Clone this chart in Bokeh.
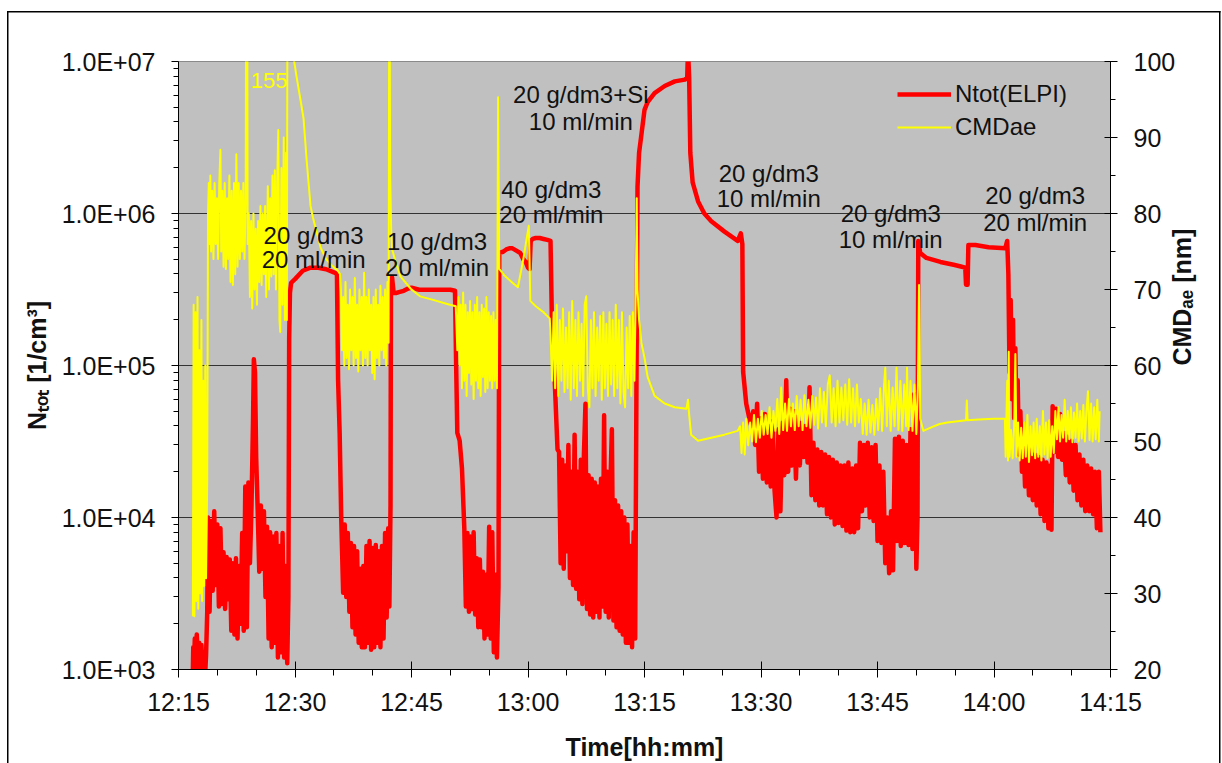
import math
import numpy as np
import pandas as pd
from bokeh.plotting import figure
from bokeh.models import (Range1d, LinearAxis, LinearScale, FixedTicker, SingleIntervalTicker,
                          DatetimeTickFormatter, ColumnDataSource, Legend, LegendItem)
from bokeh.embed import file_html
from bokeh.resources import INLINE
from bokeh.core.properties import value

BASE = pd.Timestamp("2012-01-01 12:00:00")
FONT = "Liberation Sans"

# ---------------- Ntot(ELPI) [1/cm3] : (minutes after 12:00, value) ----------------
red_startup = [(16.8, 700), (16.9, 1400), (17.0, 1100), (17.1, 1600), (17.2, 1000), (17.35, 1700),
               (17.5, 1150), (17.65, 1500), (17.8, 900), (17.95, 1450), (18.1, 950), (18.25, 1300),
               (18.4, 850), (18.55, 1250), (18.7, 2400)]
red_run1 = [(18.8, 1.0e4), (19.0, 2.4e3), (19.2, 9.5e3), (19.4, 3.3e3), (19.6, 1.1e4), (19.8, 3.6e3),
            (20.0, 9.0e3), (20.2, 2.6e3), (20.4, 8.5e3), (20.6, 2.7e3), (20.8, 5.9e3), (21.0, 2.5e3),
            (21.2, 5.5e3), (21.4, 2.9e3), (21.6, 5.3e3), (21.8, 1.8e3), (22.0, 5.0e3), (22.2, 1.7e3),
            (22.4, 5.4e3), (22.6, 1.6e3), (22.8, 4.8e3), (23.0, 2.0e3), (23.2, 7.9e3), (23.4, 1.8e3),
            (23.6, 1.6e4), (23.8, 1.9e3), (24.0, 1.7e4), (24.2, 5.0e3), (24.4, 1.2e4), (24.6, 4.5e4),
            (24.7, 1.1e5), (24.85, 9.0e4), (25.0, 2.5e4), (25.2, 1.1e4), (25.4, 4.4e3), (25.6, 1.2e4),
            (25.8, 4.6e3), (26.0, 1.1e4), (26.2, 3.0e3), (26.4, 8.7e3), (26.6, 1.6e3), (26.8, 8.0e3),
            (27.0, 1.4e3), (27.2, 7.5e3), (27.4, 1.5e3), (27.6, 7.9e3), (27.8, 1.2e3), (28.0, 6.5e3),
            (28.2, 1.3e3), (28.4, 7.9e3), (28.6, 1.2e3), (28.8, 4.8e3), (29.0, 1.1e3), (29.15, 3.0e3)]
red_plateau1 = [(29.25, 1.5e5), (29.35, 3.0e5), (29.5, 3.5e5), (30.0, 3.7e5), (31.0, 4.2e5),
                (32.0, 4.4e5), (33.0, 4.4e5), (34.0, 4.3e5), (35.0, 4.1e5), (35.4, 4.0e5),
                (35.55, 8.0e4), (35.75, 3.6e4), (35.95, 1.0e4)]
red_run2 = [(36.2, 3.2e3), (36.4, 9.0e3), (36.6, 3.0e3), (36.8, 7.9e3), (37.0, 2.4e3), (37.2, 6.8e3),
            (37.4, 1.9e3), (37.6, 6.5e3), (37.8, 1.7e3), (38.0, 6.0e3), (38.2, 1.5e3), (38.4, 4.6e3),
            (38.6, 1.4e3), (38.8, 4.8e3), (39.0, 1.4e3), (39.2, 6.5e3), (39.4, 1.5e3), (39.6, 7.0e3),
            (39.8, 1.35e3), (40.0, 6.3e3), (40.2, 1.4e3), (40.4, 6.6e3), (40.6, 1.5e3), (40.8, 6.0e3),
            (41.0, 1.4e3), (41.2, 6.5e3), (41.4, 1.6e3), (41.6, 7.9e3), (41.8, 2.2e3), (42.0, 8.5e3),
            (42.15, 2.6e3), (42.3, 1.2e4)]
red_plateau2 = [(42.35, 3.3e5), (42.5, 3.8e5), (42.7, 3.0e5), (43.0, 3.0e5), (43.5, 3.05e5),
                (44.0, 3.1e5), (44.5, 3.2e5), (45.0, 3.25e5), (45.5, 3.2e5), (46.0, 3.15e5),
                (48.0, 3.15e5), (50.0, 3.15e5), (50.6, 3.1e5), (50.75, 1.0e5), (50.9, 3.6e4),
                (51.2, 3.2e4), (51.5, 2.1e4), (51.8, 8.5e3)]
red_run3 = [(52.0, 2.6e3), (52.2, 7.9e3), (52.4, 2.4e3), (52.6, 7.5e3), (52.8, 2.5e3), (53.0, 8.0e3),
            (53.2, 2.3e3), (53.4, 5.4e3), (53.6, 1.9e3), (53.8, 5.3e3), (54.0, 1.9e3), (54.2, 4.4e3),
            (54.4, 1.6e3), (54.6, 4.2e3), (54.8, 1.7e3), (55.0, 8.7e3), (55.2, 1.6e3), (55.4, 8.0e3),
            (55.6, 1.3e3), (55.8, 4.2e3), (56.0, 1.2e3), (56.2, 3.5e3)]
red_plateau3 = [(56.3, 5.5e5), (56.8, 5.6e5), (57.2, 5.8e5), (57.6, 5.9e5), (58.0, 5.9e5),
                (58.5, 5.7e5), (59.0, 5.5e5), (59.4, 5.0e5), (59.7, 4.8e5), (60.0, 4.4e5),
                (60.2, 4.3e5), (60.35, 6.6e5), (60.6, 6.8e5), (61.0, 6.9e5), (61.5, 6.9e5),
                (62.0, 6.8e5), (62.5, 6.7e5), (62.9, 6.6e5), (63.1, 1.7e5), (63.4, 9.0e4),
                (63.6, 5.0e4), (63.8, 2.8e4)]
red_run4 = [(64.0, 2.7e4), (64.2, 5.0e3), (64.4, 2.4e4), (64.6, 4.6e3), (64.8, 2.2e4), (65.0, 6.0e3),
            (65.2, 3.0e4), (65.4, 4.0e3), (65.6, 2.0e4), (65.8, 3.6e3), (66.0, 3.5e4), (66.2, 3.4e3),
            (66.4, 2.0e4), (66.6, 2.9e3), (66.8, 2.4e4), (67.0, 2.7e3), (67.2, 2.6e4), (67.4, 5.6e4),
            (67.6, 2.5e3), (67.8, 1.9e4), (68.0, 2.3e3), (68.2, 1.8e4), (68.4, 2.2e3), (68.6, 1.7e4),
            (68.8, 2.4e3), (69.0, 1.6e4), (69.2, 2.2e3), (69.4, 1.8e4), (69.6, 2.6e3), (69.8, 4.7e4),
            (70.0, 2.4e3), (70.2, 2.0e4), (70.4, 2.2e3), (70.6, 1.6e4), (70.8, 3.8e4), (71.0, 2.1e3),
            (71.2, 1.3e4), (71.4, 1.9e3), (71.6, 1.2e4), (71.8, 1.8e3), (72.0, 1.1e4), (72.2, 1.7e3),
            (72.4, 1.0e4), (72.6, 1.5e3), (72.8, 9.0e3), (73.0, 1.5e3), (73.2, 6.5e3), (73.4, 1.4e3),
            (73.6, 8.0e3), (73.8, 1.6e3)]
red_plateau4 = [(74.0, 1.7e5), (74.1, 1.5e6), (74.3, 2.5e6), (74.6, 3.3e6), (75.0, 4.8e6),
                (75.4, 5.4e6), (76.3, 6.2e6), (77.6, 6.9e6), (78.9, 7.4e6), (80.2, 7.6e6),
                (80.5, 7.8e6), (80.6, 1.2e7), (80.75, 7.8e6), (80.9, 2.5e6), (81.2, 1.6e6),
                (81.9, 1.2e6), (82.7, 1.0e6), (83.6, 8.9e5), (85.3, 7.6e5), (87.0, 6.6e5),
                (87.4, 7.4e5), (87.6, 6.3e5), (87.7, 9.1e4), (88.1, 5.6e4), (88.5, 4.5e4)]
red_run5 = [(88.75, 4.0e4), (89.0, 5.0e4), (89.25, 3.0e4), (89.5, 5.6e4), (89.75, 2.0e4), (90.0, 4.5e4),
            (90.25, 1.8e4), (90.5, 4.8e4), (90.75, 1.7e4), (91.0, 4.0e4), (91.25, 1.6e4), (91.5, 4.3e4),
            (91.75, 1.5e4), (92.0, 1.0e4), (92.25, 3.8e4), (92.5, 1.1e4), (92.75, 4.2e4), (93.0, 1.9e4),
            (93.25, 8.0e4), (93.5, 2.0e4), (93.75, 5.2e4), (94.0, 2.2e4), (94.25, 5.0e4), (94.5, 1.8e4),
            (94.75, 4.6e4), (95.0, 2.2e4), (95.25, 4.2e4), (95.5, 2.5e4), (95.75, 4.0e4), (96.0, 2.3e4),
            (96.25, 7.2e4), (96.5, 1.4e4), (96.75, 3.1e4), (97.0, 1.3e4), (97.25, 2.8e4), (97.5, 1.2e4),
            (97.75, 2.7e4), (98.0, 1.2e4), (98.25, 2.6e4), (98.5, 1.05e4), (98.75, 2.5e4), (99.0, 1.0e4),
            (99.25, 2.4e4), (99.5, 9.0e3), (99.75, 2.3e4), (100.0, 9.2e3), (100.25, 2.2e4), (100.5, 8.8e3),
            (100.75, 2.2e4), (101.0, 8.2e3), (101.25, 2.3e4), (101.5, 8.0e3), (101.75, 2.1e4), (102.0, 8.0e3),
            (102.25, 2.2e4), (102.5, 8.5e3), (102.75, 3.1e4), (103.0, 1.1e4), (103.25, 3.0e4), (103.5, 1.2e4),
            (103.75, 3.1e4), (104.0, 1.0e4), (104.25, 2.9e4), (104.5, 9.5e3), (104.75, 3.0e4), (105.0, 7.0e3),
            (105.25, 2.2e4), (105.5, 6.8e3), (105.75, 2.0e4), (106.0, 5.0e3), (106.25, 1.0e4), (106.5, 4.3e3),
            (106.75, 1.1e4), (107.0, 4.5e3), (107.25, 3.3e4), (107.5, 7.0e3), (107.75, 3.4e4), (108.0, 6.5e3),
            (108.25, 3.2e4), (108.5, 6.8e3), (108.75, 3.0e4), (109.0, 6.6e3), (109.25, 3.8e4), (109.5, 6.2e3),
            (109.75, 6.5e4), (110.0, 4.6e3), (110.15, 1.0e4)]
red_plateau5 = [(110.25, 6.6e5), (110.5, 5.5e5), (111.3, 5.1e5), (113.1, 4.8e5), (114.8, 4.6e5),
                (115.6, 4.5e5), (116.3, 4.4e5), (116.4, 3.4e5), (116.6, 3.4e5), (116.7, 6.2e5),
                (117.6, 6.2e5), (119.3, 6.0e5), (121.45, 5.9e5), (121.7, 6.6e5), (121.85, 4.0e5)]
red_run6 = [(122.0, 9.0e4), (122.15, 2.7e5), (122.3, 6.0e4), (122.45, 2.0e5), (122.6, 4.5e4),
            (122.75, 1.3e5), (122.9, 4.0e4), (123.05, 8.0e4), (123.2, 2.6e4), (123.4, 5.0e4), (123.6, 2.0e4),
            (123.8, 3.1e4), (124.0, 1.6e4), (124.25, 3.0e4), (124.5, 1.4e4), (124.75, 2.8e4), (125.0, 1.3e4),
            (125.25, 2.6e4), (125.5, 1.2e4), (125.75, 2.5e4), (126.0, 1.05e4), (126.25, 2.4e4), (126.5, 9.5e3),
            (126.75, 2.3e4), (127.0, 8.5e3), (127.25, 2.2e4), (127.4, 8.3e3), (127.55, 5.4e4), (127.8, 2.7e4),
            (128.0, 5.2e4), (128.25, 2.5e4), (128.5, 4.8e4), (128.75, 2.4e4), (129.0, 3.6e4), (129.25, 1.9e4),
            (129.5, 3.4e4), (129.75, 1.7e4), (130.0, 3.2e4), (130.25, 1.5e4), (130.5, 3.0e4), (130.75, 1.3e4),
            (131.0, 2.6e4), (131.25, 1.2e4), (131.5, 2.4e4), (131.75, 1.1e4), (132.0, 2.2e4), (132.25, 1.1e4),
            (132.5, 2.1e4), (132.75, 1.05e4), (133.0, 2.0e4), (133.25, 8.5e3), (133.5, 2.0e4), (133.7, 8.0e3)]

# ---------------- CMDae [nm] : (minutes after 12:00, value) ----------------
yel_startup = [(16.85, 27), (16.95, 68), (17.05, 27), (17.2, 67), (17.3, 29), (17.45, 69), (17.55, 28),
               (17.7, 62), (17.8, 30), (17.95, 66), (18.05, 29), (18.2, 58), (18.3, 31), (18.45, 60),
               (18.55, 32), (18.7, 45)]
yel_run1 = [(18.8, 80), (18.9, 84), (19.0, 76), (19.1, 85), (19.2, 75), (19.35, 83), (19.5, 74), (19.65, 84),
            (19.8, 76), (19.95, 82), (20.1, 74), (20.25, 84), (20.4, 88.4), (20.5, 75), (20.65, 83), (20.8, 73),
            (20.95, 84), (21.1, 72.7), (21.25, 82), (21.4, 74), (21.55, 85), (21.7, 71), (21.85, 83), (22.0, 70.6),
            (22.15, 84), (22.3, 72), (22.45, 87.8), (22.6, 73), (22.75, 84), (22.9, 74), (23.05, 83), (23.2, 75),
            (23.35, 84), (23.5, 74), (23.65, 82), (23.8, 155), (23.9, 76), (24.05, 80), (24.2, 69), (24.35, 79),
            (24.5, 67.5), (24.65, 80), (24.8, 70), (24.95, 78), (25.1, 68), (25.25, 79), (25.4, 71), (25.55, 81),
            (25.7, 70.6), (25.85, 80), (26.0, 72), (26.15, 81), (26.3, 69), (26.5, 83.6), (26.65, 70), (26.8, 82),
            (26.95, 71.7), (27.1, 85), (27.25, 72), (27.4, 85.7), (27.55, 70), (27.7, 84), (27.85, 91), (28.0, 66),
            (28.1, 64.4), (28.25, 86), (28.4, 68), (28.55, 90), (28.7, 66), (28.85, 88), (28.95, 66)]
yel_decay1 = [(29.05, 120), (29.4, 115), (29.6, 105), (29.75, 101), (30.2, 98), (30.7, 95), (31.1, 92.5),
              (31.5, 87), (32.0, 81), (32.3, 79.5), (32.8, 77.5), (33.3, 75.5), (34.0, 74), (34.7, 73.2),
              (35.5, 72.5), (35.8, 72)]
yel_run2 = [(35.9, 70), (36.05, 62), (36.2, 69), (36.35, 60), (36.5, 71), (36.65, 61), (36.8, 68), (36.95, 59.5),
            (37.1, 70), (37.25, 62), (37.4, 69), (37.55, 60), (37.7, 71.5), (37.85, 61), (38.0, 68), (38.15, 59.2),
            (38.3, 70), (38.45, 62), (38.6, 69), (38.75, 60), (38.9, 72.2), (39.05, 61), (39.2, 69), (39.35, 60),
            (39.5, 70), (39.65, 62), (39.8, 68), (39.95, 59), (40.1, 69), (40.25, 58.2), (40.4, 70), (40.55, 61),
            (40.7, 68), (40.85, 60), (41.0, 70.5), (41.15, 62), (41.3, 69), (41.45, 61), (41.6, 70), (41.75, 60),
            (41.9, 71), (42.05, 63)]
yel_decay2 = [(42.15, 120), (42.25, 85), (42.4, 77), (42.5, 75.3), (43.0, 73.5), (43.6, 71.7), (44.9, 70.1),
              (46.1, 69.1), (47.9, 68.6), (49.6, 68.1), (50.7, 67.8)]
yel_run3 = [(50.9, 62), (51.05, 69), (51.2, 60), (51.35, 68), (51.5, 57), (51.65, 69.6), (51.8, 58), (51.95, 68),
            (52.1, 56), (52.25, 67), (52.4, 59), (52.55, 68.5), (52.7, 57.5), (52.85, 67), (53.0, 55.6), (53.15, 68),
            (53.3, 58), (53.45, 69), (53.6, 57), (53.75, 67), (53.9, 56), (54.05, 68), (54.2, 58.5), (54.35, 67.5),
            (54.5, 56.5), (54.65, 69), (54.8, 57), (54.95, 67), (55.1, 58), (55.25, 66.5), (55.4, 57), (55.55, 67),
            (55.7, 58), (55.85, 66), (56.0, 57)]
yel_mid = [(56.15, 95.3), (56.3, 72.7), (57.0, 71.8), (58.0, 70.9), (58.7, 70.3), (59.4, 74), (60.1, 78.4),
           (60.3, 68.5), (61.0, 67.8), (62.0, 67), (62.8, 66.2)]
yel_run4 = [(62.9, 64), (63.1, 58), (63.3, 67), (63.5, 57), (63.7, 68), (63.9, 56), (64.1, 66), (64.3, 58),
            (64.5, 67.5), (64.7, 56.5), (64.9, 65), (65.1, 57), (65.3, 67), (65.5, 55.5), (65.7, 68.5), (65.9, 57),
            (66.1, 66), (66.3, 56), (66.5, 67), (66.7, 58), (66.9, 65.5), (67.1, 56), (67.3, 68), (67.5, 69.1),
            (67.7, 57), (67.9, 54.5), (68.1, 66), (68.3, 57), (68.5, 67), (68.7, 56), (68.9, 65), (69.1, 58),
            (69.3, 66.5), (69.5, 55.5), (69.7, 67), (69.9, 57), (70.1, 65.5), (70.3, 56), (70.5, 67), (70.7, 57.5),
            (70.9, 66), (71.1, 56), (71.3, 68), (71.5, 57), (71.7, 66), (71.9, 55), (72.1, 67), (72.3, 56.5),
            (72.5, 54.5), (72.7, 65), (72.9, 57), (73.1, 66.5), (73.3, 56), (73.5, 67), (73.7, 58), (73.85, 68)]
yel_decay3 = [(74.0, 82), (74.1, 70), (74.3, 66), (74.6, 63), (75.0, 61), (75.4, 58.5), (76.3, 56), (77.6, 55),
              (78.9, 54.5), (80.4, 54.3), (80.6, 55.5), (80.75, 53.5), (81.0, 50.9), (81.9, 50.1), (83.6, 50.5),
              (85.3, 50.9), (87.0, 51.4)]
yel_run5 = [(87.3, 52), (87.5, 48.5), (87.7, 52.5), (87.9, 48.3), (88.1, 53), (88.35, 49.5), (88.6, 52.5),
            (88.85, 50), (89.1, 53.5), (89.35, 49.9), (89.6, 53), (89.85, 50.5), (90.1, 54), (90.35, 50.9),
            (90.6, 53.5), (90.85, 51), (91.1, 54.5), (91.35, 50.5), (91.6, 54), (91.85, 51.4), (92.1, 55.6),
            (92.35, 51), (92.6, 57.1), (92.85, 51.5), (93.1, 55), (93.35, 51.4), (93.6, 55.6), (93.85, 52),
            (94.1, 55), (94.35, 51.5), (94.6, 56), (94.85, 52), (95.1, 55.5), (95.35, 51.5), (95.6, 56.1),
            (95.85, 52), (96.1, 55.5), (96.35, 51.8), (96.6, 56), (96.85, 52.2), (97.1, 55.8), (97.35, 51.7),
            (97.6, 57), (97.85, 52.5), (98.1, 56.5), (98.35, 52), (98.6, 57.5), (98.85, 58.7), (99.1, 52.5),
            (99.35, 57), (99.6, 52), (99.85, 58), (100.1, 52.5), (100.35, 57.1), (100.6, 52.8), (100.85, 57.5),
            (101.1, 52.2), (101.35, 58.2), (101.6, 52.5), (101.85, 57), (102.1, 52), (102.35, 57.5), (102.6, 52.5),
            (102.85, 55.6), (103.1, 51), (103.35, 55), (103.6, 50.9), (103.85, 55.5), (104.1, 51.2), (104.35, 54.8),
            (104.6, 50.9), (104.85, 55.6), (105.1, 51.5), (105.35, 57), (105.6, 51.4), (105.85, 57.5), (106.0, 59.7),
            (106.2, 52), (106.45, 58), (106.7, 51.4), (106.95, 57.1), (107.2, 52), (107.45, 59.7), (107.7, 51.5),
            (107.95, 58), (108.2, 51.4), (108.45, 57.5), (108.7, 52), (108.8, 59.7), (109.0, 51.5), (109.25, 58),
            (109.5, 51.4), (109.75, 57.5), (110.0, 51), (110.2, 57)]
yel_flat = [(110.35, 70.6), (110.5, 53), (110.9, 51.4), (112.0, 51.9), (113.0, 52.3), (114.0, 52.5),
            (115.6, 52.7), (116.4, 52.8), (116.5, 55.4), (116.6, 52.8), (118.0, 52.9), (120.0, 53.0),
            (121.4, 53.0)]
yel_run6 = [(121.5, 48), (121.7, 58), (121.8, 47.5), (121.9, 61.8), (122.0, 48), (122.2, 51.5), (122.4, 47.8),
            (122.6, 52), (122.75, 61.5), (122.9, 48), (123.1, 52.5), (123.3, 47.5), (123.5, 51.8), (123.7, 47.8),
            (123.9, 52.5), (124.1, 48), (124.3, 53.5), (124.5, 47.3), (124.7, 52), (124.9, 48.2), (125.1, 52.5),
            (125.3, 47.8), (125.5, 53), (125.7, 48), (125.9, 52), (126.1, 47.5), (126.3, 54), (126.5, 48.3),
            (126.7, 52.5), (126.9, 47.8), (127.1, 52.8), (127.3, 48), (127.5, 52), (127.7, 48.5), (127.9, 54),
            (128.1, 50.3), (128.3, 54.5), (128.5, 50), (128.7, 53.5), (128.9, 50.5), (129.1, 55.5), (129.3, 50),
            (129.5, 54), (129.7, 50.3), (129.9, 54.5), (130.1, 49.9), (130.3, 53.8), (130.5, 50.5), (130.7, 55),
            (130.9, 50), (131.1, 54), (131.3, 50.4), (131.5, 54.8), (131.7, 50), (131.9, 54), (132.1, 56.6),
            (132.3, 50.2), (132.5, 55), (132.7, 50), (132.9, 54.5), (133.1, 50.3), (133.3, 55.5), (133.5, 50),
            (133.6, 54)]

# ---------------- annotations ----------------
ann_text = ["20 g/dm3", "20 ml/min", "10 g/dm3", "20 ml/min", "40 g/dm3", "20 ml/min",
            "20 g/dm3+Si", "10 ml/min", "20 g/dm3", "10 ml/min", "20 g/dm3", "10 ml/min",
            "20 g/dm3", "20 ml/min"]
ann_min = [32.4, 32.4, 48.3, 48.3, 63.0, 63.0, 66.8, 66.8, 91.0, 91.0, 106.7, 106.7, 125.3, 125.3]
ann_n = [7.2e5, 5.0e5, 6.55e5, 4.42e5, 1.44e6, 9.8e5, 6.07e6, 4.03e6, 1.83e6, 1.26e6,
         1.0e6, 6.75e5, 1.31e6, 8.7e5]
peak_label = "155"
peak_label_min, peak_label_cmd = 24.3, 97.5

x_tick_min = [15, 30, 45, 60, 75, 90, 105, 120, 135]
x_minor_min = [20, 25, 35, 40, 50, 55, 65, 70, 80, 85, 95, 100, 110, 115, 125, 130]
y_ticks = [1e3, 1e4, 1e5, 1e6, 1e7]
y_tick_labels = ["1.0E+03", "1.0E+04", "1.0E+05", "1.0E+06", "1.0E+07"]


def to_dt(mins):
    return BASE + pd.to_timedelta(np.asarray(mins, dtype=float), unit="m")


def to_ms(mins):
    return [(BASE + pd.Timedelta(minutes=m)).value / 1e6 for m in mins]


red = (red_startup + red_run1 + red_plateau1 + red_run2 + red_plateau2 + red_run3 +
       red_plateau3 + red_run4 + red_plateau4 + red_run5 + red_plateau5 + red_run6)
yel = (yel_startup + yel_run1 + yel_decay1 + yel_run2 + yel_decay2 + yel_run3 + yel_mid +
       yel_run4 + yel_decay3 + yel_run5 + yel_flat + yel_run6)

red_src = ColumnDataSource(dict(t=to_dt([a for a, b in red]), v=[b for a, b in red]))
yel_src = ColumnDataSource(dict(t=to_dt([a for a, b in yel]), v=[b for a, b in yel]))

# outer chart frame drawn as CSS background lines behind a transparent canvas border
frame_css = {
    "background-color": "white",
    "background-image": "linear-gradient(#000,#000), linear-gradient(#000,#000), linear-gradient(#000,#000)",
    "background-size": "1.5px 800px, 1213.5px 1.5px, 1.5px 800px",
    "background-position": "7px 11px, 7px 11px, 1219px 11px",
    "background-repeat": "no-repeat",
}

p = figure(width=1222, height=763, x_axis_type="datetime", y_axis_type="log",
           x_range=Range1d(to_dt([15])[0], to_dt([135])[0]), y_range=Range1d(1e3, 1e7),
           output_backend="svg", toolbar_location=None,
           min_border_left=178, min_border_right=112, min_border_top=61, min_border_bottom=94,
           background_fill_color="#C0C0C0", border_fill_color=None,
           outline_line_color="#8a8a8a", styles=frame_css)
p.extra_y_ranges = {"cmd": Range1d(20, 100)}
p.extra_y_scales = {"cmd": LinearScale()}

r_red = p.line("t", "v", source=red_src, line_color="#FF0000", line_width=4.5, line_join="round")
r_yel = p.line("t", "v", source=yel_src, line_color="#FFFF00", line_width=2, y_range_name="cmd",
               line_join="round")

# grid
p.xgrid.visible = False
p.ygrid.ticker = FixedTicker(ticks=[1e4, 1e5, 1e6])
p.ygrid.grid_line_color = "#333333"
p.ygrid.grid_line_width = 1

# x axis
xa = p.xaxis[0]
xa.ticker = FixedTicker(ticks=to_ms(x_tick_min), minor_ticks=to_ms(x_minor_min))
xa.formatter = DatetimeTickFormatter(minsec="%H:%M", minutes="%H:%M", hourmin="%H:%M", hours="%H:%M")
xa.axis_label = "Time[hh:mm]"

# left axis
ya = p.yaxis[0]
ya.ticker = FixedTicker(ticks=y_ticks,
                        minor_ticks=[k * 10 ** e for e in range(3, 7) for k in range(2, 10)])
ya.major_label_overrides = {t: s for t, s in zip(y_ticks, y_tick_labels)}
ya.axis_label = "Nₜₒₜ [1/cm³]"

# right axis
ra = LinearAxis(y_range_name="cmd", ticker=SingleIntervalTicker(interval=10, num_minor_ticks=2),
                axis_label="CMDₐₑ [nm]")
p.add_layout(ra, "right")

for ax in (xa, ya, ra):
    ax.axis_line_color = "black"
    ax.major_tick_line_color = "black"
    ax.minor_tick_line_color = "black"
    ax.major_label_text_font = FONT
    ax.major_label_text_font_size = "25px"
    ax.major_label_text_color = "#111111"
    ax.axis_label_text_font = FONT
    ax.axis_label_text_font_size = "25px"
    ax.axis_label_text_font_style = "bold"
    ax.axis_label_text_color = "#111111"

xa.major_tick_in, xa.major_tick_out = 8, 8
xa.minor_tick_in, xa.minor_tick_out = 0, 6
xa.major_label_standoff = 10
xa.axis_label_standoff = 14

ya.major_tick_in, ya.major_tick_out = 0, 7
ya.minor_tick_in, ya.minor_tick_out = 0, 5
ya.major_label_standoff = 16
ya.axis_label_standoff = 8

ra.major_tick_in, ra.major_tick_out = 6, 7
ra.minor_tick_in, ra.minor_tick_out = 0, 5
ra.major_label_standoff = 16
ra.axis_label_standoff = 4
ra.axis_label_orientation = math.pi / 2

# annotations
ann_src = ColumnDataSource(dict(t=to_dt(ann_min), n=ann_n, text=ann_text))
p.text("t", "n", text="text", source=ann_src, text_font=value(FONT), text_font_size="24px",
       text_align="center", text_baseline="middle", text_color="#111111")
pk_src = ColumnDataSource(dict(t=to_dt([peak_label_min]), c=[peak_label_cmd], text=[peak_label]))
p.text("t", "c", text="text", source=pk_src, y_range_name="cmd", text_font=value(FONT),
       text_font_size="22px", text_align="left", text_baseline="middle", text_color="#FFFF00")

# legend
legend = Legend(items=[LegendItem(label="Ntot(ELPI)", renderers=[r_red]),
                       LegendItem(label="CMDae", renderers=[r_yel])],
                location=(719, 528), padding=0, margin=0, spacing=5,
                glyph_width=54, glyph_height=28, label_height=28, label_standoff=4,
                label_text_font=FONT, label_text_font_size="24px", label_text_color="#111111",
                background_fill_alpha=0, border_line_alpha=0)
p.add_layout(legend)

open("out.html", "w").write(file_html(p, INLINE))
